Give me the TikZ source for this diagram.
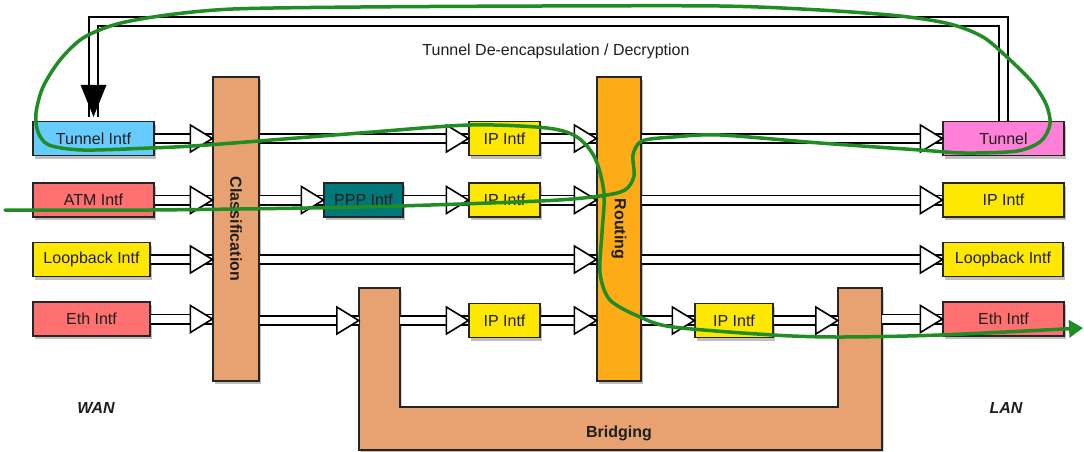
\documentclass[tikz,border=0pt]{standalone}
\usepackage{fontspec}
\setmainfont{Liberation Sans}
\usetikzlibrary{arrows.meta,decorations.markings,shadows,calc}
\definecolor{tunc}{RGB}{102,204,255}
\definecolor{redc}{RGB}{255,112,112}
\definecolor{yelc}{RGB}{255,232,0}
\definecolor{pppc}{RGB}{0,120,120}
\definecolor{brc}{RGB}{232,162,114}
\definecolor{rtc}{RGB}{253,172,24}
\definecolor{pinkc}{RGB}{255,128,214}
\definecolor{grn}{RGB}{32,140,36}
\definecolor{txt}{RGB}{30,30,30}
\tikzset{
  txtf/.style={font=\fontsize{16}{19}\selectfont, text=txt},
  shad/.style={drop shadow={shadow xshift=1.5pt, shadow yshift=-3pt, opacity=0.25, fill=black}},
  box/.style={draw=black!85, line width=1.2pt, inner sep=0pt, txtf, shad, minimum height=34pt},
  barbox/.style={draw=black!85, line width=1.2pt, inner sep=0pt, shad},
  ghost/.style={inner sep=0pt, draw=none},
  bartext/.style={txtf, font=\fontsize{16}{19}\selectfont\bfseries, rotate=-90},
  flow/.style={white, line width=7.5pt, preaction={draw=black, line width=11pt},
    postaction={decorate, decoration={markings, mark=at position 1 with
      {\path[draw=black, fill=white, line width=1.6pt, line join=miter]
        (0pt,0pt) -- (-22pt,13.5pt) -- (-22pt,-13.5pt) -- cycle;}}}},
  fb/.style={white, line width=7.5pt, line join=miter,
    preaction={draw=black, line width=11pt, line join=miter},
    postaction={decorate, decoration={markings, mark=at position 1 with
      {\path[fill=black, draw=none] (0pt,0pt) -- (-32pt,13pt) -- (-32pt,-13pt) -- cycle;}}}},
  path/.style={draw=grn, line width=3.5pt, line cap=round, line join=round}
}
\begin{document}
\begin{tikzpicture}[x=1pt, y=-1pt]
\useasboundingbox (0,0) rectangle (1084,451);
\fill[white] (0,0) rectangle (1084,451);

% bridging U-shape
\draw[barbox, fill=brc] (359,288) -- (359,450) -- (882,450) -- (882,288) -- (838,288)
  -- (838,407) -- (400,407) -- (400,288) -- cycle;
\node[ghost, minimum width=41pt, minimum height=119pt] (brl) at (379.5,347.5) {};
\node[ghost, minimum width=44pt, minimum height=119pt] (brr) at (860,347.5) {};
\node[txtf, font=\fontsize{16}{19}\selectfont\bfseries] (brt) at (619,433) {Bridging};

% bars
\node[barbox, fill=brc, minimum width=46pt, minimum height=304pt] (cls) at (236,229) {};
\node[bartext] (clst) at (cls.center) {Classification};
\node[barbox, fill=rtc, minimum width=44pt, minimum height=304pt] (rt) at (619,229) {};
\node[bartext] (rtt) at (rt.center) {Routing};

% left boxes
\node[box, fill=tunc, minimum width=121pt] (tin) at (93.5,138.5) {Tunnel Intf};
\node[box, fill=redc, minimum width=121pt] (atm) at (93.5,200) {ATM Intf};
\node[box, fill=yelc, minimum width=117pt] (lbl) at (91.5,259.5) {Loopback Intf};
\node[box, fill=redc, minimum width=117pt] (ethl) at (91.5,319) {Eth Intf};

% middle boxes
\node[box, fill=yelc, minimum width=71pt] (ip1) at (504.5,138.5) {IP Intf};
\node[box, fill=pppc, minimum width=79pt] (ppp) at (363.5,200) {PPP Intf};
\node[box, fill=yelc, minimum width=71pt] (ip2) at (504.5,200) {IP Intf};
\node[box, fill=yelc, minimum width=71pt] (ip3) at (504.5,320.5) {IP Intf};
\node[box, fill=yelc, minimum width=78pt] (ip4) at (734,320.5) {IP Intf};

% right boxes
\node[box, fill=pinkc, minimum width=121pt] (tun) at (1003.5,138.5) {Tunnel};
\node[box, fill=yelc, minimum width=121pt] (ipr) at (1003.5,200) {IP Intf};
\node[box, fill=yelc, minimum width=120pt] (lbr) at (1003,259.5) {Loopback Intf};
\node[box, fill=redc, minimum width=121pt] (ethr) at (1003.5,319) {Eth Intf};

% labels
\node[txtf, font=\fontsize{16}{19}\selectfont\bfseries\itshape] (wan) at (96,408) {WAN};
\node[txtf, font=\fontsize{16}{19}\selectfont\bfseries\itshape] (lan) at (1006,408) {LAN};
\node[txtf, anchor=base] (tdd) at (556,55) {Tunnel De-encapsulation / Decryption};

% row 1
\draw[flow] (tin.east) -- (tin.east -| cls.west);
\draw[flow] (cls.east |- ip1) -- (ip1.west);
\draw[flow] (ip1.east) -- (ip1.east -| rt.west);
\draw[flow] (rt.east |- tun) -- (tun.west);
% row 2
\draw[flow] (atm.east) -- (atm.east -| cls.west);
\draw[flow] (cls.east |- ppp) -- (ppp.west);
\draw[flow] (ppp.east) -- (ip2.west);
\draw[flow] (ip2.east) -- (ip2.east -| rt.west);
\draw[flow] (rt.east |- ipr) -- (ipr.west);
% row 3
\draw[flow] (lbl.east) -- (lbl.east -| cls.west);
\draw[flow] (cls.east |- lbl) -- (rt.west |- lbl);
\draw[flow] (rt.east |- lbr) -- (lbr.west);
% row 4
\draw[flow] (ethl.east) -- (ethl.east -| cls.west);
\draw[flow] (cls.east |- ip3) -- (brl.west |- ip3);
\draw[flow] (brl.east |- ip3) -- (ip3.west);
\draw[flow] (ip3.east) -- (ip3.east -| rt.west);
\draw[flow] (rt.east |- ip4) -- (ip4.west);
\draw[flow] (ip4.east) -- (ip4.east -| brr.west);
\draw[flow] (brr.east |- ethr) -- (ethr.west);

% feedback
\coordinate (fbtop) at (0,21.5);
\coordinate (fbend) at ([yshift=4pt]tin.north);
\draw[fb] (tun.north) -- (tun.north |- fbtop) -| (fbend);

% green packet path
\draw[path, -{Triangle[length=14pt,width=17pt]}] plot[smooth, tension=0.5] coordinates {
 (5,210) (150,210) (360,207) (540,201) (600,196) (625,190) (634,176) (633,155) (642,141) (673,137)
 (720,135) (820,143) (920,150) (965,153) (1017,151) (1041,141) (1050,124) (1046,104)
 (1032,82) (1008,58) (983,37) (950,24) (900,16) (820,10) (720,6) (540,6) (360,7)
 (233,9) (167,15) (117,24) (83,38) (60,60) (43,87) (36,113) (38,132) (49,145) (83,150)
 (150,148) (207,145) (360,133) (470,125) (547,128) (577,137) (595,158) (604,193)
 (602,233) (600,273) (610,300) (640,317) (673,327) (773,335) (840,337) (940,335) (1083,328)};
\end{tikzpicture}
\end{document}
